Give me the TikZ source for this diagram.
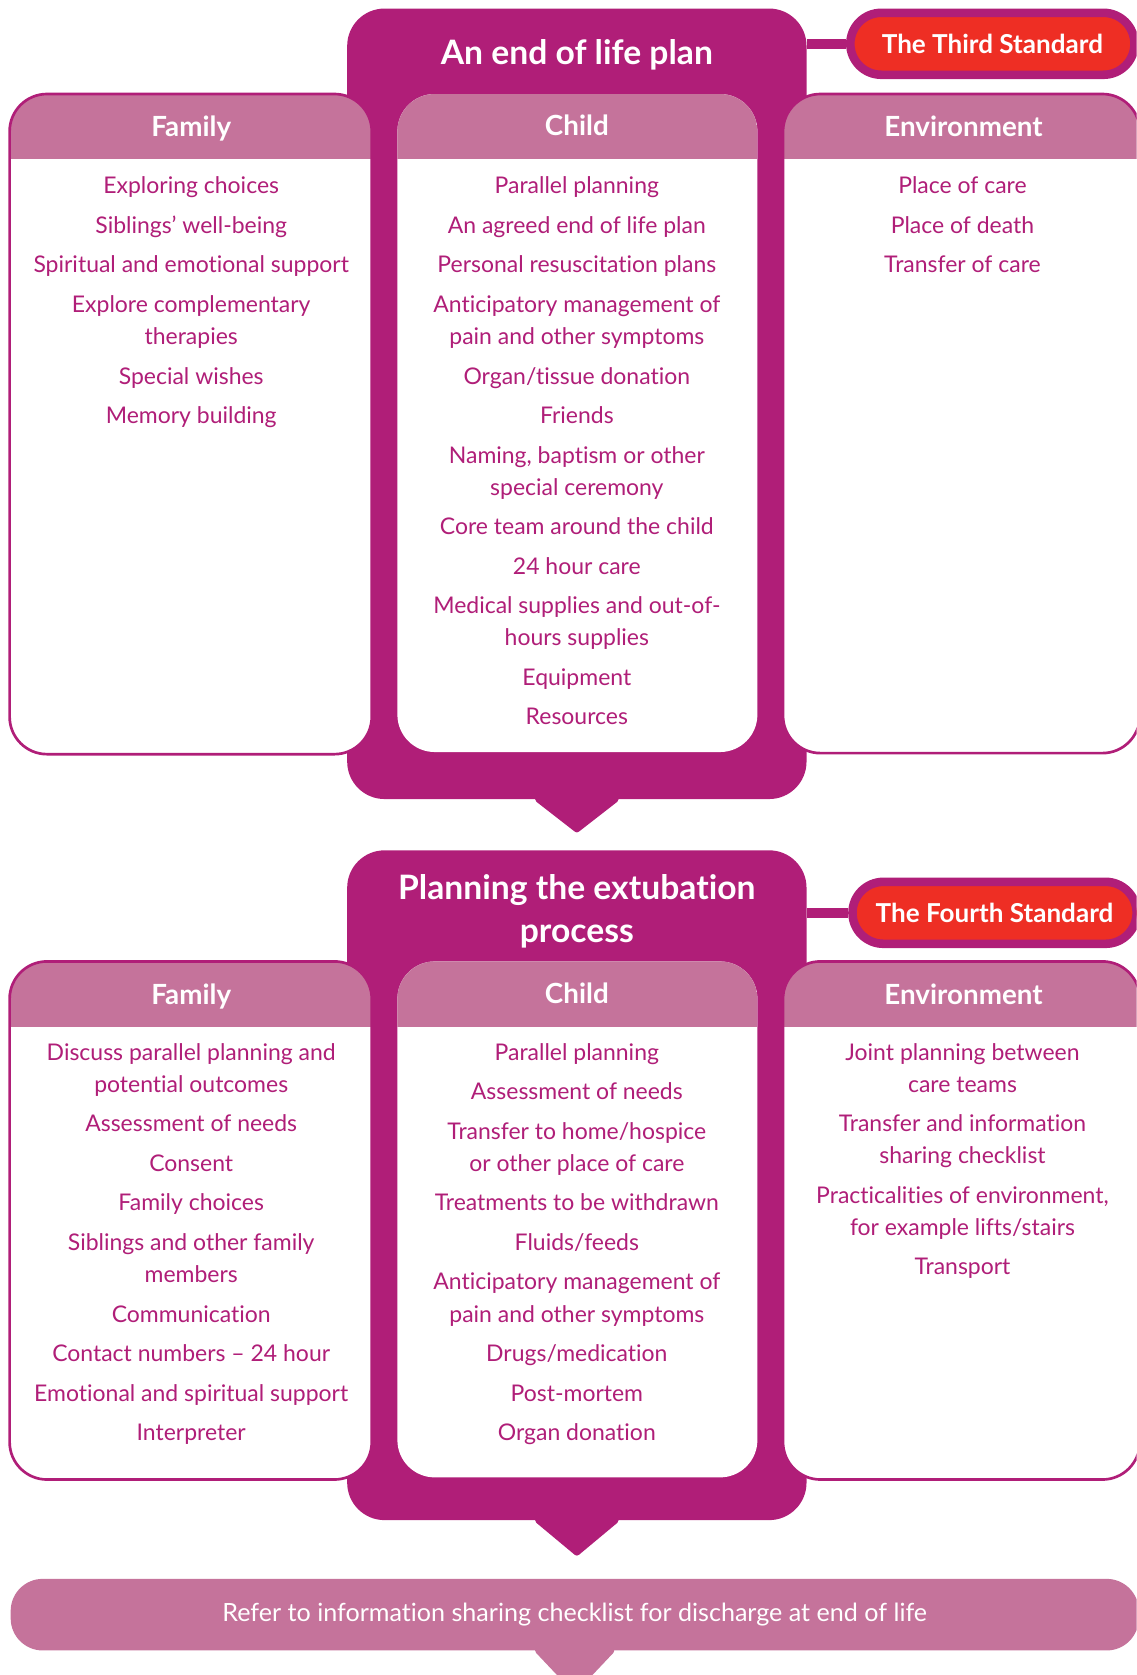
\documentclass[tikz,border=0pt]{standalone}
\usepackage{fontspec}
\setmainfont{Lato}[Ligatures=NoCommon]
\definecolor{plum}{HTML}{B01E78}
\definecolor{rose}{HTML}{C5739B}
\definecolor{flame}{HTML}{EE2E24}
\begin{document}
\begin{tikzpicture}[x=1pt,y=-1pt,
  planbox/.style={fill=plum, rounded corners=35pt, inner sep=0pt, minimum width=430pt},
  plantitle/.style={text=white, font=\fontsize{31.5}{40}\selectfont\bfseries, align=center, inner sep=0pt},
  pill/.style={fill=flame, draw=plum, line width=8pt, rounded corners=29pt,
    minimum width=266pt, minimum height=58pt, inner sep=0pt,
    text=white, font=\fontsize{24.4}{28}\selectfont\bfseries},
  link/.style={draw=plum, line width=9pt},
  tip/.style={fill=plum, draw=plum, line width=6pt, line join=round},
  colbox/.style={fill=white, draw=plum, line width=2.5pt, rounded corners=35pt, inner sep=0pt,
    path picture={\fill[rose, sharp corners] (path picture bounding box.north west) rectangle
      ([yshift=-61pt]path picture bounding box.north east);}},
  colhead/.style={text=white, font=\fontsize{26}{30}\selectfont\bfseries, anchor=base, inner sep=0pt},
  items/.style={text=plum, font=\fontsize{21.5}{30}\selectfont, align=center, anchor=north, inner sep=0pt},
  band/.style={fill=rose, rounded corners=30pt, minimum width=1056pt, minimum height=67pt, inner sep=0pt,
    text=white, font=\fontsize{23.5}{28}\selectfont},
]
\useasboundingbox (0,0) rectangle (1064,1568);
\clip (0,0) rectangle (1064,1568);

% ---------- The third standard: an end of life plan ----------
\node[planbox, minimum height=740pt] (planA) at (540,378) {};
\filldraw[tip] ([xshift=-36pt,yshift=6pt]planA.south) -- ([xshift=-36pt]planA.south)
  -- ([yshift=-28pt]planA.south) -- ([xshift=36pt]planA.south) -- ([xshift=36pt,yshift=6pt]planA.south) -- cycle;
\node[plantitle, anchor=base] (titleA) at (540,60) {An end of life plan};
\node[pill] (pillA) at (929,41) {The Third Standard};
\draw[link] (pillA.west -| planA.east) -- (pillA.west);

\node[colbox, minimum width=339pt, minimum height=618pt] (famA) at (178.5,397) {};
\node[colbox, draw=none, minimum width=337pt, minimum height=616pt] (childA) at (540.5,396) {};
\node[colbox, minimum width=334pt, minimum height=617pt] (envA) at (900,396.5) {};

\node[colhead] (famAh) at (179,128) {Family};
\node[colhead] (childAh) at (540,127) {Child};
\node[colhead] (envAh) at (902,128) {Environment};

\node[items] (famAl) at (179,165.5) {Exploring choices\\[7pt] Siblings’ well-being\\[7pt]
  Spiritual and emotional support\\[7pt] Explore complementary\\ therapies\\[7pt]
  Special wishes\\[7pt] Memory building};
\node[items] (childAl) at (540,165.5) {Parallel planning\\[7pt] An agreed end of life plan\\[7pt]
  Personal resuscitation plans\\[7pt] Anticipatory management of\\ pain and other symptoms\\[7pt]
  Organ/tissue donation\\[7pt] Friends\\[7pt] Naming, baptism or other\\ special ceremony\\[7pt]
  Core team around the child\\[7pt] 24 hour care\\[7pt] Medical supplies and out-of-\\ hours supplies\\[7pt]
  Equipment\\[7pt] Resources};
\node[items] (envAl) at (901,165.5) {Place of care\\[7pt] Place of death\\[7pt] Transfer of care};

% ---------- The fourth standard: planning the extubation process ----------
\node[planbox, minimum height=627pt] (planB) at (540,1109.5) {};
\filldraw[tip] ([xshift=-36pt,yshift=6pt]planB.south) -- ([xshift=-36pt]planB.south)
  -- ([yshift=-30pt]planB.south) -- ([xshift=36pt]planB.south) -- ([xshift=36pt,yshift=6pt]planB.south) -- cycle;
\node[plantitle] (titleB) at (540,853) {Planning the extubation\\ process};
\node[pill] (pillB) at (931,854.5) {The Fourth Standard};
\draw[link] (pillB.west -| planB.east) -- (pillB.west);

\node[colbox, minimum width=339pt, minimum height=485pt] (famB) at (178.5,1142.5) {};
\node[colbox, draw=none, minimum width=337pt, minimum height=483pt] (childB) at (540.5,1141.5) {};
\node[colbox, minimum width=334pt, minimum height=485pt] (envB) at (900,1142.5) {};

\node[colhead] (famBh) at (179,940) {Family};
\node[colhead] (childBh) at (540,939) {Child};
\node[colhead] (envBh) at (902,940) {Environment};

\node[items] (famBl) at (179,976.5) {Discuss parallel planning and\\ potential outcomes\\[7pt]
  Assessment of needs\\[7pt] Consent\\[7pt] Family choices\\[7pt] Siblings and other family\\ members\\[7pt]
  Communication\\[7pt] Contact numbers – 24 hour\\[7pt] Emotional and spiritual support\\[7pt] Interpreter};
\node[items] (childBl) at (540,976.5) {Parallel planning\\[7pt] Assessment of needs\\[7pt]
  Transfer to home/hospice\\ or other place of care\\[7pt] Treatments to be withdrawn\\[7pt] Fluids/feeds\\[7pt]
  Anticipatory management of\\ pain and other symptoms\\[7pt] Drugs/medication\\[7pt] Post-mortem\\[7pt] Organ donation};
\node[items] (envBl) at (901,976.5) {Joint planning between\\ care teams\\[7pt] Transfer and information\\ sharing checklist\\[7pt]
  Practicalities of environment,\\ for example lifts/stairs\\[7pt] Transport};

% ---------- Closing note ----------
\node[band] (note) at (538,1511.5) {Refer to information sharing checklist for discharge at end of life};
\filldraw[tip, fill=rose, draw=rose] ([xshift=-34pt,yshift=6pt]note.south) -- ([xshift=-34pt]note.south)
  -- ([yshift=-36pt]note.south) -- ([xshift=34pt]note.south) -- ([xshift=34pt,yshift=6pt]note.south) -- cycle;
\end{tikzpicture}
\end{document}
